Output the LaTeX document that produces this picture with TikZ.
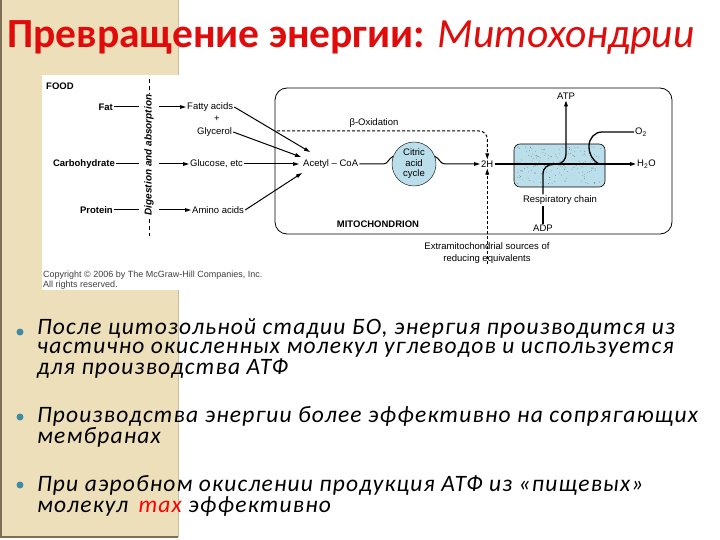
\documentclass[tikz,border=0pt]{standalone}
\usepackage{fontspec}
\setmainfont{Carlito}
\newfontfamily\diagfont{Liberation Sans}
\newfontfamily\bulletfont{Carlito}[LetterSpace=5]
\usetikzlibrary{arrows.meta,calc,positioning}
\definecolor{slidebeige}{RGB}{238,223,187}
\definecolor{bandedge}{RGB}{125,110,85}
\definecolor{titlered}{RGB}{224,12,12}
\definecolor{bulletteal}{RGB}{62,140,162}
\definecolor{cycleblue}{RGB}{186,222,234}
\tikzset{
  txt/.style={font=\diagfont\fontsize{9.5}{10}\selectfont, inner sep=1pt},
  boldtxt/.style={font=\diagfont\bfseries\fontsize{9.5}{10}\selectfont, inner sep=1pt},
  flow/.style={line width=1pt, -{Triangle[length=6pt,width=3.6pt]}},
  dashflow/.style={flow, dash pattern=on 3pt off 2pt},
  chainline/.style={line width=1.3pt},
  bulletdot/.style={circle, fill=bulletteal, minimum size=7pt, inner sep=0pt},
  bullettext/.style={anchor=base west, inner sep=0pt, align=left,
    font=\bulletfont\itshape\fontsize{23.5}{18.5}\selectfont}
}
\begin{document}
\begin{tikzpicture}[x=1pt,y=-1pt]
  \useasboundingbox (0,0) rectangle (720,540);
  % slide background
  \fill[white] (0,0) rectangle (720,540);
  \fill[slidebeige] (0,0) rectangle (178,537);
  \draw[slidebeige!85!black] (178,0) -- (178,537);
  \draw[bandedge, line width=1.5pt] (1,0) -- (1,537) -- (178,537);
  \fill[white] (42,75) rectangle (180,290);

  % title
  \node[anchor=base west, inner sep=0pt, text=titlered,
    font=\bfseries\fontsize{41.5}{44}\selectfont] (title) at (7,48)
    {Превращение энергии: {\mdseries\itshape Митохондрии}};

  % food side
  \node[boldtxt, anchor=west] (food) at (45,86) {FOOD};
  \node[boldtxt, anchor=east] (fat) at (114,107) {Fat};
  \node[txt, anchor=west] (fatty) at (186,107) {Fatty acids};
  \node[txt] (plus) at (217,119) {+};
  \node[txt, anchor=west] (glyc) at (196,132) {Glycerol};
  \node[boldtxt, anchor=east] (carb) at (116,164) {Carbohydrate};
  \node[txt, anchor=west] (gluc) at (189,164) {Glucose, etc};
  \node[boldtxt, anchor=east] (prot) at (114,210) {Protein};
  \node[txt, anchor=west] (amino) at (191,210) {Amino acids};

  \draw[flow] (fat) -- (fatty);
  \draw[flow] (carb) -- (gluc);
  \draw[flow] (prot) -- (amino);
  \coordinate (digtop) at (149,79);
  \coordinate (digbot) at (149,236);
  \draw[dash pattern=on 4pt off 3pt] (digtop) -- (digbot);
  \node[rotate=90, fill=white, inner xsep=1pt, inner ysep=5pt,
    font=\diagfont\bfseries\itshape\fontsize{10}{11}\selectfont] (digest) at (149,155)
    {Digestion and absorption};

  % mitochondrion
  \node[draw, rounded corners=12pt, line width=0.8pt, minimum width=397pt,
    minimum height=146pt] (mito) at (473.5,161) {};
  \node[boldtxt] (mitolbl) at (378,224) {MITOCHONDRION};
  \node[txt, anchor=west] (acetyl) at (302,164) {Acetyl – CoA};
  \node[circle, draw, fill=cycleblue, minimum size=44pt, inner sep=0pt, align=center,
    font=\diagfont\fontsize{9.5}{10.5}\selectfont] (cycle) at (414,164) {Citric\\acid\\cycle};
  \node[txt, anchor=west] (twoH) at (480,164) {2H};

  \draw[flow] (fatty.east) -- ($(acetyl.west)+(8,-12)$);
  \draw[flow] (glyc.east) -- ($(acetyl.west)+(-1,-7)$);
  \draw[flow] (gluc.east) -- ($(acetyl.west)+(-3,0)$);
  \draw[flow] (amino.east) -- ($(acetyl.west)+(0,9)$);
  \draw[line width=1pt] (acetyl.east) -- ++(24,0) to[out=0,in=200] (cycle.160);
  \draw[flow] (cycle.20) to[out=-20,in=180] ++(10,7.5) -- (twoH.west);

  \node[txt] (beta) at (374,123) {β-Oxidation};
  \coordinate (betastart) at (277,131);
  \draw[dashflow, rounded corners=8pt] (betastart) -| (twoH.north);
  \node[txt, align=center, font=\diagfont\fontsize{9.5}{11.5}\selectfont]
    (extra) at (487,253) {Extramitochondrial sources of\\reducing equivalents};
  \draw[dashflow] (twoH.south |- extra.south) -- (twoH.south);

  % respiratory chain
  \node[draw, rounded corners=6pt, fill=cycleblue, line width=0.6pt,
    minimum width=91pt, minimum height=43pt] (resp) at (559.5,165.5) {};
  \pgfmathsetseed{11}
  \foreach \i in {1,...,170}
    \fill[black!55] ($(resp.north west)+({3+rnd*85},{3+rnd*37})$) circle (0.4pt);
  \node[txt] (rclabel) at (560,200) {Respiratory chain};
  \node[txt] (adp) at (543,228) {ADP};
  \node[txt] (atp) at (566,96) {ATP};
  \node[txt, anchor=west] (otwo) at (634,132) {O\textsubscript{2}};
  \node[txt, anchor=west] (water) at (636,164) {H\textsubscript{2}O};
  \coordinate (atpjoin) at (557,164);

  \draw[flow, line width=1.3pt] (twoH.east) -- (water.west);
  \draw[chainline] (adp.north) -- (adp.north |- rclabel.south);
  \draw[chainline] (adp.north |- rclabel.north) -- ++(0,-21) to[out=90,in=180] ++(10,-9);
  \draw[flow, line width=1.3pt] (atpjoin) to[out=0,in=-90] ++(9,-10) -- (atp.south);
  \draw[chainline] (otwo.west) -- ++(-32,0) to[out=180,in=90] ++(-13,14)
    to[out=-90,in=150] ++(10,18);

  \node[anchor=west, inner sep=0pt, font=\diagfont\fontsize{9}{9.5}\selectfont,
    align=left, text=black!75] (copy) at (43,280)
    {Copyright © 2006 by The McGraw-Hill Companies, Inc.\\All rights reserved.};

  % bullets
  \node[bulletdot] (b1) at (20,332) {};
  \node[bullettext] (t1) at (37,374) {После цитозольной стадии БО, энергия производится из\\частично окисленных молекул углеводов и используется\\для производства АТФ};
  \node[bulletdot] (b2) at (20,417) {};
  \node[bullettext] (t2) at (37,443) {Производства энергии более эффективно на сопрягающих\\мембранах};
  \node[bulletdot] (b3) at (20,485) {};
  \node[bullettext] (t3) at (37,512) {При аэробном окислении продукция АТФ из «пищевых»\\молекул \,{\color{red}max} эффективно};
\end{tikzpicture}
\end{document}
